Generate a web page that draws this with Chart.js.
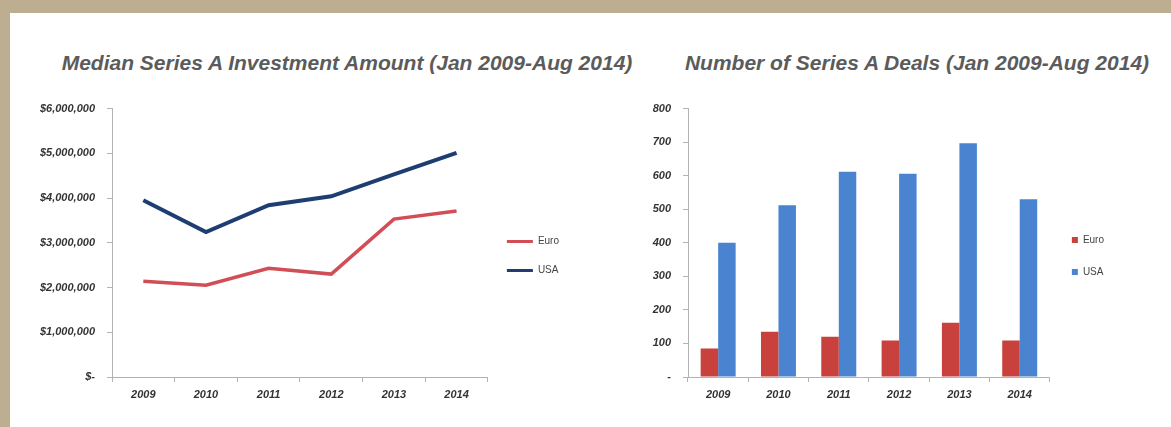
<!DOCTYPE html>
<html>
<head>
<meta charset="utf-8">
<script src="https://cdn.jsdelivr.net/npm/chart.js@4"></script>
<style>
  html, body { margin: 0; padding: 0; }
  body { width: 1171px; height: 427px; background: #bdae92; position: relative; overflow: hidden; }
  #panel { position: absolute; left: 10px; top: 13px; width: 1161px; height: 414px; background: #fff; }
  .title { position: absolute; top: 51px; font: italic bold 21px "Liberation Sans", Arial, sans-serif; color: #5b5b5b; white-space: nowrap; transform: translateX(-50%); }
  .box { position: absolute; }
</style>
</head>
<body>
<div id="panel"></div>
<div class="title" style="left:347px">Median Series A Investment Amount (Jan 2009-Aug 2014)</div>
<div class="title" style="left:917px">Number of Series A Deals (Jan 2009-Aug 2014)</div>
<div class="box" style="left:20px; top:90px; width:590px; height:320px"><canvas id="amountChart"></canvas></div>
<div class="box" style="left:596px; top:90px; width:575px; height:320px"><canvas id="dealsChart"></canvas></div>
<script>
const years = ['2009', '2010', '2011', '2012', '2013', '2014'];
const euroAmount = [2140000, 2050000, 2430000, 2300000, 3530000, 3710000];
const usaAmount = [3950000, 3240000, 3840000, 4040000, 4530000, 5010000];
const euroDeals = [85, 135, 120, 109, 162, 109];
const usaDeals = [400, 512, 612, 606, 697, 530];

const tickFont = { family: '"Liberation Sans", Arial, sans-serif', size: 11, style: 'italic', weight: 'bold' };
const legendFont = { family: '"Liberation Sans", Arial, sans-serif', size: 10 };
const axisGrey = '#b3b3b3';

function axisX() {
    return {
        offset: true,
        grid: { offset: true, drawOnChartArea: false, drawTicks: true, tickLength: 5, color: axisGrey },
        border: { color: axisGrey },
        ticks: { font: tickFont, color: '#333', padding: 6, maxRotation: 0 },
        afterFit: s => { s.height = 28; }
    };
}

function axisY(max, step, fmt, width) {
    return {
        min: 0,
        max: max,
        grid: { drawOnChartArea: false, drawTicks: true, tickLength: 5, color: axisGrey },
        border: { color: axisGrey },
        ticks: { stepSize: step, font: tickFont, color: '#333', padding: 12, callback: fmt },
        afterFit: s => { s.width = width; }
    };
}

// line chart - median investment amount
new Chart(document.getElementById('amountChart'), {
    type: 'line',
    data: {
        labels: years,
        datasets: [
            { label: 'Euro', data: euroAmount, borderColor: '#d24e56', backgroundColor: '#d24e56', borderWidth: 3.5, pointRadius: 0, tension: 0 },
            { label: 'USA', data: usaAmount, borderColor: '#1e3e72', backgroundColor: '#1e3e72', borderWidth: 4, pointRadius: 0, tension: 0 }
        ]
    },
    options: {
        responsive: true,
        maintainAspectRatio: false,
        animation: false,
        layout: { padding: { top: 17, bottom: 5, right: 41 } },
        plugins: {
            tooltip: { enabled: false },
            legend: {
                position: 'right',
                labels: {
                    font: legendFont, color: '#444', boxWidth: 26, boxHeight: 3, padding: 19,
                    generateLabels: chart => Chart.defaults.plugins.legend.labels.generateLabels(chart).map(l => Object.assign(l, { lineWidth: 0 }))
                }
            }
        },
        scales: {
            x: axisX(),
            y: axisY(6000000, 1000000, v => v === 0 ? '$-' : '$' + v.toLocaleString('en-US'), 92)
        }
    }
});

// bar chart - number of deals
new Chart(document.getElementById('dealsChart'), {
    type: 'bar',
    data: {
        labels: years,
        datasets: [
            { label: 'Euro', data: euroDeals, backgroundColor: '#c8413d' },
            { label: 'USA', data: usaDeals, backgroundColor: '#4a84d0' }
        ]
    },
    options: {
        responsive: true,
        maintainAspectRatio: false,
        animation: false,
        layout: { padding: { top: 17, bottom: 5, right: 57 } },
        datasets: { bar: { categoryPercentage: 0.58, barPercentage: 1 } },
        plugins: {
            tooltip: { enabled: false },
            legend: {
                position: 'right',
                labels: { font: legendFont, color: '#444', boxWidth: 6, boxHeight: 6, padding: 22 }
            }
        },
        scales: {
            x: axisX(),
            y: axisY(800, 100, v => v === 0 ? '-' : v, 92)
        }
    }
});
</script>
</body>
</html>
